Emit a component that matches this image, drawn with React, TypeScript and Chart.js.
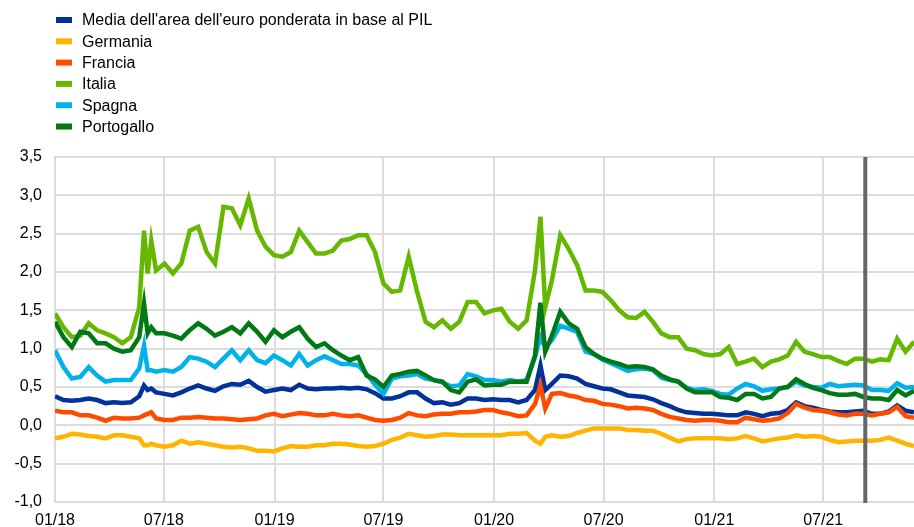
import React, { useEffect, useRef } from "react";
import { Chart, registerables } from "chart.js";

Chart.register(...registerables);

// days since 2018-01-01
const dayOffsets = [
  0, 14, 28, 42, 56, 70, 84, 98, 112, 126, 140, 148, 154, 160, 168, 182, 196, 210, 224, 238,
  252, 266, 280, 294, 308, 322, 336, 350, 364, 378, 392, 406, 420, 434, 448, 462, 476,
  490, 504, 518, 532, 546, 560, 574, 588, 602, 616, 630, 644, 658, 672, 686, 700, 714,
  728, 742, 756, 770, 784, 798, 807, 815, 826, 840, 854, 868, 882, 896, 910, 924, 938, 952,
  966, 980, 994, 1008, 1022, 1036, 1050, 1064, 1078, 1092, 1106, 1120, 1134, 1148, 1162, 1176, 1190,
  1204, 1218, 1232, 1246, 1260, 1274, 1288, 1302, 1316, 1330, 1344, 1358, 1372, 1386, 1400, 1414, 1428,
];

const euroArea = [
  0.38, 0.33, 0.32, 0.33, 0.35, 0.33, 0.29, 0.30, 0.29, 0.30, 0.38, 0.52, 0.46, 0.48, 0.43, 0.41, 0.39, 0.43, 0.48, 0.52,
  0.48, 0.45, 0.51, 0.54, 0.53, 0.58, 0.50, 0.44, 0.46, 0.48, 0.46, 0.53, 0.48, 0.47, 0.48, 0.48, 0.49,
  0.48, 0.49, 0.47, 0.42, 0.35, 0.35, 0.38, 0.43, 0.43, 0.35, 0.29, 0.30, 0.27, 0.29, 0.35, 0.35, 0.33,
  0.34, 0.33, 0.33, 0.30, 0.33, 0.46, 0.78, 0.46, 0.54, 0.65, 0.64, 0.61, 0.54, 0.51, 0.48, 0.47, 0.43, 0.39,
  0.38, 0.37, 0.34, 0.29, 0.25, 0.20, 0.17, 0.16, 0.15, 0.15, 0.14, 0.13, 0.13, 0.17, 0.15, 0.12, 0.15,
  0.16, 0.20, 0.30, 0.25, 0.23, 0.20, 0.18, 0.17, 0.17, 0.18, 0.19, 0.15, 0.15, 0.18, 0.26, 0.19, 0.17,
];

const germany = [
  -0.17, -0.15, -0.11, -0.12, -0.14, -0.15, -0.17, -0.13, -0.13, -0.15, -0.17, -0.26, -0.26, -0.24, -0.26, -0.28, -0.26, -0.20, -0.24, -0.22,
  -0.24, -0.26, -0.28, -0.29, -0.28, -0.30, -0.33, -0.33, -0.34, -0.30, -0.27, -0.28, -0.28, -0.26, -0.26, -0.24, -0.24,
  -0.25, -0.27, -0.28, -0.27, -0.24, -0.19, -0.16, -0.11, -0.13, -0.15, -0.14, -0.12, -0.12, -0.13, -0.13, -0.13, -0.13,
  -0.13, -0.13, -0.11, -0.11, -0.10, -0.20, -0.24, -0.15, -0.13, -0.15, -0.14, -0.10, -0.07, -0.04, -0.04, -0.04, -0.04, -0.06,
  -0.06, -0.07, -0.07, -0.11, -0.16, -0.21, -0.18, -0.17, -0.17, -0.17, -0.17, -0.18, -0.17, -0.14, -0.17, -0.21, -0.19,
  -0.17, -0.16, -0.13, -0.15, -0.14, -0.15, -0.19, -0.22, -0.21, -0.20, -0.20, -0.20, -0.19, -0.16, -0.20, -0.24, -0.27,
];

const france = [
  0.19, 0.17, 0.17, 0.13, 0.13, 0.10, 0.06, 0.10, 0.09, 0.09, 0.10, 0.13, 0.15, 0.17, 0.09, 0.07, 0.07, 0.10, 0.10, 0.11,
  0.10, 0.09, 0.09, 0.08, 0.07, 0.08, 0.09, 0.13, 0.15, 0.12, 0.14, 0.16, 0.15, 0.13, 0.13, 0.15, 0.13,
  0.12, 0.13, 0.10, 0.07, 0.06, 0.07, 0.10, 0.16, 0.13, 0.12, 0.14, 0.15, 0.15, 0.17, 0.17, 0.18, 0.20,
  0.20, 0.17, 0.15, 0.12, 0.13, 0.28, 0.52, 0.22, 0.41, 0.42, 0.39, 0.37, 0.33, 0.32, 0.28, 0.27, 0.25, 0.22,
  0.23, 0.22, 0.20, 0.15, 0.11, 0.09, 0.07, 0.06, 0.07, 0.07, 0.06, 0.04, 0.04, 0.10, 0.08, 0.06, 0.07,
  0.09, 0.16, 0.28, 0.23, 0.20, 0.19, 0.17, 0.14, 0.13, 0.15, 0.15, 0.13, 0.15, 0.17, 0.24, 0.12, 0.10,
];

const italy = [
  1.46, 1.28, 1.15, 1.17, 1.33, 1.24, 1.20, 1.15, 1.07, 1.15, 1.54, 2.54, 1.98, 2.41, 2.02, 2.11, 1.98, 2.11, 2.54, 2.59,
  2.26, 2.11, 2.85, 2.83, 2.61, 2.96, 2.54, 2.33, 2.22, 2.20, 2.26, 2.54, 2.39, 2.24, 2.24, 2.28, 2.41,
  2.43, 2.48, 2.48, 2.26, 1.85, 1.74, 1.76, 2.20, 1.74, 1.35, 1.28, 1.37, 1.26, 1.35, 1.61, 1.61, 1.46,
  1.50, 1.52, 1.35, 1.26, 1.37, 2.02, 2.72, 1.54, 1.89, 2.48, 2.30, 2.09, 1.76, 1.76, 1.74, 1.63, 1.50, 1.41,
  1.40, 1.48, 1.35, 1.20, 1.15, 1.15, 1.00, 0.98, 0.93, 0.91, 0.93, 1.02, 0.80, 0.83, 0.87, 0.76, 0.83,
  0.86, 0.91, 1.09, 0.96, 0.93, 0.89, 0.89, 0.84, 0.80, 0.87, 0.87, 0.83, 0.86, 0.85, 1.13, 0.96, 1.09,
];

const spain = [
  0.98, 0.76, 0.61, 0.63, 0.76, 0.65, 0.57, 0.59, 0.59, 0.59, 0.74, 1.04, 0.72, 0.72, 0.70, 0.72, 0.70, 0.76, 0.89, 0.87,
  0.83, 0.76, 0.87, 0.98, 0.85, 0.98, 0.85, 0.81, 0.91, 0.85, 0.78, 0.93, 0.78, 0.85, 0.90, 0.85, 0.80,
  0.80, 0.78, 0.67, 0.53, 0.41, 0.61, 0.64, 0.65, 0.67, 0.61, 0.59, 0.56, 0.51, 0.52, 0.67, 0.64, 0.59,
  0.59, 0.57, 0.59, 0.57, 0.59, 0.89, 1.15, 1.02, 1.11, 1.30, 1.26, 1.22, 0.96, 0.93, 0.86, 0.81, 0.76, 0.71,
  0.73, 0.74, 0.72, 0.62, 0.59, 0.57, 0.49, 0.46, 0.47, 0.45, 0.41, 0.40, 0.48, 0.54, 0.51, 0.45, 0.47,
  0.48, 0.50, 0.57, 0.52, 0.50, 0.49, 0.54, 0.51, 0.52, 0.53, 0.52, 0.46, 0.46, 0.45, 0.55, 0.49, 0.50,
];

const portugal = [
  1.35, 1.15, 1.02, 1.22, 1.20, 1.07, 1.07, 1.00, 0.96, 0.98, 1.15, 1.59, 1.20, 1.28, 1.20, 1.20, 1.17, 1.13, 1.24, 1.33,
  1.26, 1.17, 1.22, 1.28, 1.20, 1.33, 1.22, 1.09, 1.24, 1.15, 1.22, 1.28, 1.13, 1.02, 1.07, 0.98, 0.91,
  0.85, 0.89, 0.65, 0.60, 0.50, 0.65, 0.67, 0.70, 0.71, 0.65, 0.59, 0.57, 0.46, 0.43, 0.57, 0.60, 0.52,
  0.53, 0.53, 0.57, 0.57, 0.57, 0.91, 1.60, 0.96, 1.17, 1.48, 1.33, 1.26, 1.02, 0.93, 0.87, 0.83, 0.80, 0.76,
  0.77, 0.76, 0.73, 0.65, 0.60, 0.57, 0.48, 0.43, 0.43, 0.43, 0.37, 0.36, 0.33, 0.41, 0.41, 0.35, 0.37,
  0.48, 0.50, 0.60, 0.54, 0.49, 0.46, 0.42, 0.40, 0.40, 0.41, 0.37, 0.35, 0.35, 0.33, 0.46, 0.39, 0.45,
];

const seriesNames = [
  "Media dell'area dell'euro ponderata in base al PIL",
  "Germania",
  "Francia",
  "Italia",
  "Spagna",
  "Portogallo",
];
const seriesValues = [euroArea, germany, france, italy, spain, portugal];
const seriesColors = ["#003299", "#ffb400", "#ff4b00", "#65b800", "#00b1ea", "#007816"];

// x-axis ticks (days since 2018-01-01) and their labels
const tickDays = [0, 181, 365, 546, 730, 912, 1096, 1277];
const tickLabels = ["01/18", "07/18", "01/19", "07/19", "01/20", "07/20", "01/21", "07/21"];

// vertical marker (9 Sep 2021)
const markerDay = 1347;

const FONT = 'Arial, "Liberation Sans", Helvetica, sans-serif';

export default function App() {
  const canvasRef = useRef<HTMLCanvasElement | null>(null);

  useEffect(() => {
    const canvas = canvasRef.current;
    if (!canvas) return;

    const legendPlugin = {
      id: "customLegend",
      afterDraw(chart: any) {
        const ctx = chart.ctx;
        ctx.save();
        ctx.font = `16px ${FONT}`;
        ctx.textBaseline = "middle";
        ctx.textAlign = "left";
        seriesNames.forEach((name, i) => {
          const y = 20 + i * 21.3;
          ctx.fillStyle = seriesColors[i];
          ctx.fillRect(56, y - 3, 16, 6);
          ctx.fillStyle = "#000";
          ctx.fillText(name, 82, y + 1);
        });
        ctx.restore();
      },
    };

    const markerPlugin = {
      id: "marker",
      afterDatasetsDraw(chart: any) {
        const ctx = chart.ctx;
        const x = chart.scales.x.getPixelForValue(markerDay);
        const area = chart.chartArea;
        ctx.save();
        ctx.strokeStyle = "#666666";
        ctx.lineWidth = 4;
        ctx.beginPath();
        ctx.moveTo(x, area.top);
        ctx.lineTo(x, area.bottom + 1);
        ctx.stroke();
        ctx.restore();
      },
    };

    const chart = new Chart(canvas, {
      type: "line",
      data: {
        datasets: seriesValues.map((vals, i) => ({
          label: seriesNames[i],
          data: vals.map((v, j) => ({ x: dayOffsets[j], y: v })),
          borderColor: seriesColors[i],
          backgroundColor: seriesColors[i],
          borderWidth: 4.5,
          pointRadius: 0,
          tension: 0,
          fill: false,
          order: seriesValues.length - i,
        })),
      },
      options: {
        responsive: false,
        animation: false,
        layout: { padding: { top: 157, left: 0, right: 0, bottom: 0 } },
        plugins: {
          legend: { display: false },
          tooltip: { enabled: false },
        },
        scales: {
          x: {
            type: "linear",
            min: 0,
            max: 1428,
            afterBuildTicks: (scale: any) => {
              scale.ticks = tickDays.map((v) => ({ value: v }));
            },
            afterFit: (scale: any) => {
              scale.height = 25;
            },
            grid: { color: "#dcdcdc", lineWidth: 2, drawTicks: false },
            border: { display: true, color: "#dcdcdc", width: 2 },
            ticks: {
              autoSkip: false,
              maxRotation: 0,
              padding: 9,
              color: "#000",
              font: { family: FONT, size: 16 },
              callback: (value: any) => {
                const idx = tickDays.indexOf(Number(value));
                return idx >= 0 ? tickLabels[idx] : "";
              },
            },
          },
          y: {
            min: -1,
            max: 3.5,
            afterFit: (scale: any) => {
              scale.width = 55;
            },
            grid: { color: "#dcdcdc", lineWidth: 2, drawTicks: false },
            border: { display: true, color: "#dcdcdc", width: 2 },
            ticks: {
              stepSize: 0.5,
              padding: 13,
              color: "#000",
              font: { family: FONT, size: 16 },
              callback: (value: any) => Number(value).toFixed(1).replace(".", ","),
            },
          },
        },
      },
      plugins: [legendPlugin, markerPlugin],
    });

    return () => chart.destroy();
  }, []);

  return (
    <div style={{ position: "fixed", left: 0, top: 0, width: 914, height: 527, background: "#fff" }}>
      <canvas ref={canvasRef} width={914} height={527} />
    </div>
  );
}
